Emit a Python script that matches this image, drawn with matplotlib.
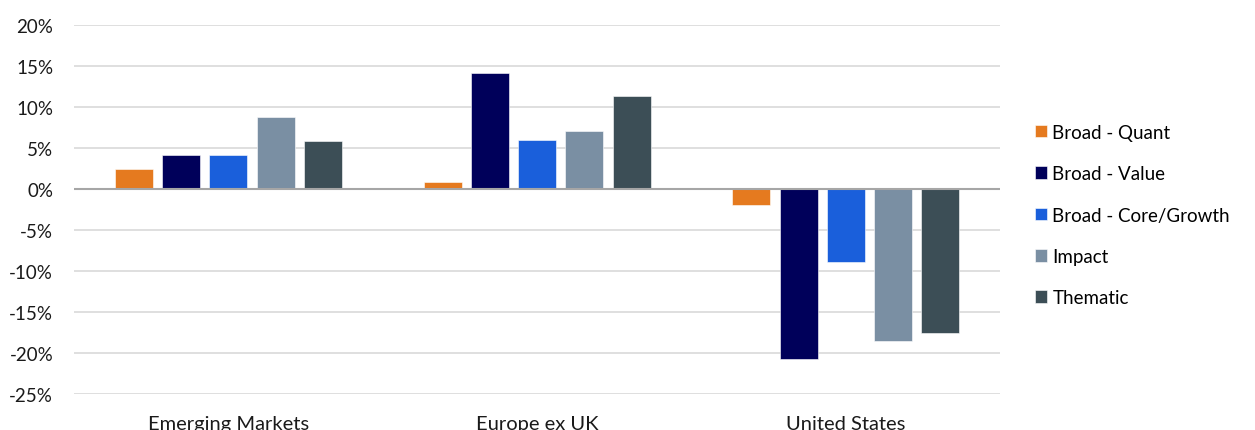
import numpy as np
import matplotlib.pyplot as plt
from matplotlib.ticker import FuncFormatter

# Data (returns, %)
regions = ["Emerging Markets", "Europe ex UK", "United States"]
series = ["Broad - Quant", "Broad - Value", "Broad - Core/Growth", "Impact", "Thematic"]
broad_quant = [2.4, 0.8, -2.0]
broad_value = [4.2, 14.1, -20.7]
broad_core_growth = [4.1, 6.0, -8.9]
impact = [8.8, 7.1, -18.5]
thematic = [5.9, 11.3, -17.6]
colors = ["#E57A1F", "#00005A", "#1A5FDB", "#7A8FA3", "#3C4E56"]

values = [broad_quant, broad_value, broad_core_growth, impact, thematic]

plt.rcParams["font.family"] = ["Lato", "DejaVu Sans"]

fig = plt.figure(figsize=(12.55, 4.31), dpi=100)
ax = fig.add_axes([0.059, 0.0835, 0.738, 0.8562])

x = np.arange(len(regions))
step = 0.153
width = 0.123
for i, (name, vals) in enumerate(zip(series, values)):
    ax.bar(x + (i - 2) * step, vals, width, color=colors[i], label=name,
           edgecolor="white", linewidth=0.4, zorder=3)

ax.set_xlim(-0.5, 2.5)
ax.set_ylim(-25, 20)
ax.set_yticks(range(-25, 21, 5))
ax.yaxis.set_major_formatter(FuncFormatter(lambda v, p: f"{v:.0f}%"))
ax.grid(axis="y", color="#D9D9D9", linewidth=1.2, zorder=0)
ax.axhline(0, color="#A6A6A6", linewidth=1.5, zorder=4)
for s in ax.spines.values():
    s.set_visible(False)
ax.tick_params(axis="both", length=0, labelsize=13.5, colors="#1a1a1a")
ax.tick_params(axis="y", pad=15)
ax.set_xticks(x)
ax.set_xticklabels(regions, fontsize=14.5)
ax.tick_params(axis="x", pad=15)

ax.legend(loc="center left", bbox_to_anchor=(1.037, 0.485), frameon=False,
          fontsize=13.5, handlelength=0.65, handleheight=0.65, handletextpad=0.3,
          labelspacing=1.3, borderpad=0, borderaxespad=0)

fig.savefig("out.png", dpi=100)
